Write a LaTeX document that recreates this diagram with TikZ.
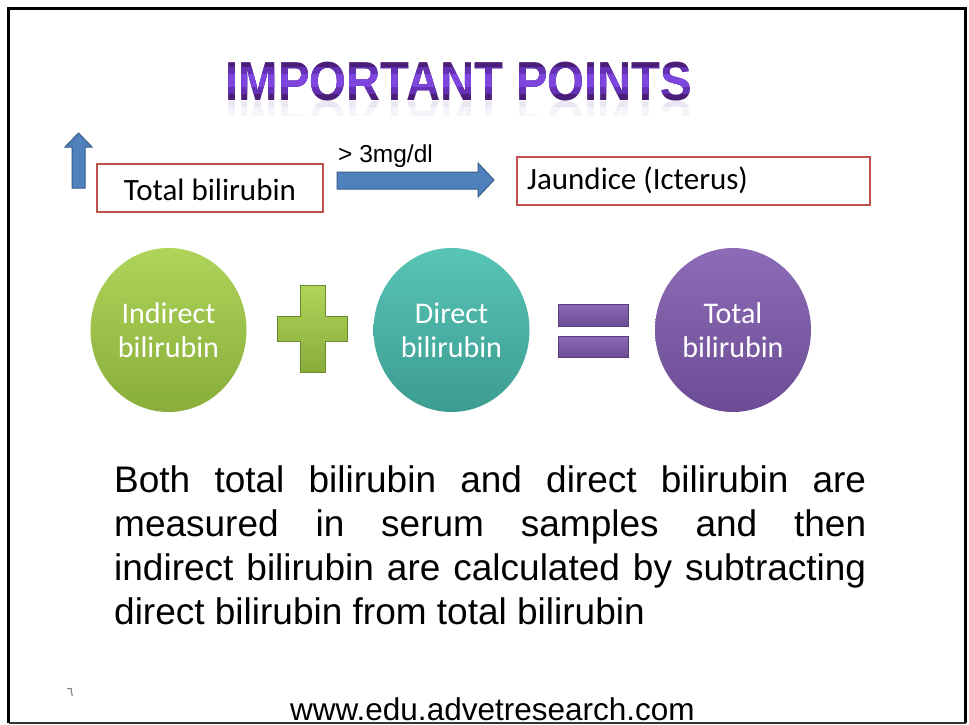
\documentclass[tikz,border=0pt]{standalone}
\usepackage{fontspec}
\setmainfont{Liberation Sans}
\newfontfamily\calfont{Carlito}
\newfontfamily\arfont[Script=Arabic]{DejaVu Sans}
\TeXXeTstate=1
\usetikzlibrary{calc,shapes.geometric}
\definecolor{boxred}{HTML}{C0504D}
\definecolor{arrowblue}{HTML}{4F81BD}
\definecolor{arrowedge}{HTML}{385D8A}
\definecolor{gtop}{HTML}{AED45A}
\definecolor{gbot}{HTML}{88AD3A}
\definecolor{ttop}{HTML}{58C5B6}
\definecolor{tbot}{HTML}{3C9C90}
\definecolor{ptop}{HTML}{8C6CB6}
\definecolor{pbot}{HTML}{6C4C94}
\definecolor{tdark}{HTML}{4A1D78}
\definecolor{tmid}{HTML}{6430B4}
\definecolor{tlight}{HTML}{7E46DE}
\definecolor{refl1}{HTML}{ECE5F3}
\definecolor{refl2}{HTML}{F6F3FA}
\newcommand{\titletext}{\fontsize{55}{60}\selectfont\bfseries\scalebox{0.86}[1]{IMPORTANT POINTS}}
\newcommand{\titlerefl}{\fontsize{55}{60}\selectfont\bfseries\scalebox{0.86}[-1]{IMPORTANT POINTS}}
\tikzset{
  titlestyle/.style={inner sep=0pt, anchor=base},
  redbox/.style={draw=boxred, line width=2pt, fill=white, inner sep=0pt},
  boxtext/.style={font=\calfont\fontsize{31}{36}\selectfont, text=black},
  blockarrow/.style={fill=arrowblue, draw=arrowedge, line width=1pt, line join=miter},
  bubble/.style={ellipse, minimum width=156pt, minimum height=164pt, inner sep=0pt,
    align=center, text=white, font=\calfont\fontsize{30}{34}\selectfont},
  opgreen/.style={top color=gtop, bottom color=gbot, draw=gbot!80!black, line width=0.4pt},
  oppurple/.style={top color=ptop, bottom color=pbot, draw=pbot!80!black, line width=0.4pt},
}
\begin{document}
\begin{tikzpicture}[x=1pt,y=-1pt]
\useasboundingbox (0,0) rectangle (969,725);
\fill[white] (0,0) rectangle (969,725);

% title with simulated gradient
\node[titlestyle, text=tdark] (title) at (459,100) {\titletext};
\begin{scope}
  \clip (200,68) rectangle (720,93);
  \node[titlestyle, text=tmid] at (459,100) {\titletext};
\end{scope}
\begin{scope}
  \clip (200,75) rectangle (720,86);
  \node[titlestyle, text=tlight] at (459,100) {\titletext};
\end{scope}
% reflection
\begin{scope}
  \clip (200,101) rectangle (720,107);
  \node[inner sep=0pt, anchor=north, text=refl1] (titlerefl) at (459,101) {\titlerefl};
\end{scope}
\begin{scope}
  \clip (200,107) rectangle (720,115);
  \node[inner sep=0pt, anchor=north, text=refl2] at (459,101) {\titlerefl};
\end{scope}

% up arrow
\draw[blockarrow] (72,188) -- (72,147) -- (65,147) -- (78.5,133) -- (92,147) -- (85,147) -- (85,188) -- cycle;

% boxes
\node[redbox, minimum width=226pt, minimum height=48pt] (tb) at (210,188) {};
\node[boxtext, anchor=base] (tbtext) at (210,200) {Total bilirubin};
\node[redbox, minimum width=353pt, minimum height=48pt] (jd) at (693.5,181) {};
\node[boxtext, anchor=base west, inner sep=0pt] (jdtext) at (527,189) {Jaundice (Icterus)};

% right block arrow between boxes
\coordinate (ra) at ($(tb.east)+(13,-8)$);
\coordinate (rb) at ($(jd.west)+(-22,-1)$);
\draw[blockarrow] (ra |- 0,172) -- (478,172) -- (478,163) -- (rb) -- (478,197) -- (478,189) -- (ra |- 0,189) -- cycle;
\node[anchor=base west, inner sep=0pt, font=\fontsize{24.5}{28}\selectfont] (lbl) at (338,162) {> 3mg/dl};

% bubbles
\node[bubble, top color=gtop, bottom color=gbot] (ind) at (168.5,330) {Indirect\\bilirubin};
\node[bubble, top color=ttop, bottom color=tbot] (dir) at (451.5,330) {Direct\\bilirubin};
\node[bubble, top color=ptop, bottom color=pbot] (tot) at (733,330) {Total\\bilirubin};

% plus
\path[opgreen] (300,285) -- (325,285) -- (325,316) -- (347,316) -- (347,341) -- (325,341)
  -- (325,372) -- (300,372) -- (300,341) -- (277,341) -- (277,316) -- (300,316) -- cycle;
% equals
\path[oppurple] (558,304) rectangle (628,326);
\path[oppurple] (558,336) rectangle (628,357);

% paragraph
\node[anchor=base west, inner sep=0pt] (para) at (114,492) {\parbox[t]{752pt}{\fontsize{37}{44}\selectfont
\makebox[752pt][s]{Both total bilirubin and direct bilirubin are}\\
\makebox[752pt][s]{measured in serum samples and then}\\
\makebox[752pt][s]{indirect bilirubin are calculated by subtracting}\\
direct bilirubin from total bilirubin}};

% small mark
\node[inner sep=0pt, text=gray, font=\arfont\fontsize{13}{15}\selectfont] (mark) at (70,692) {\beginR ٦\endR};

% footer
\node[anchor=base west, inner sep=0pt, font=\fontsize{31.5}{36}\selectfont] (foot) at (290,720) {www.edu.advetresearch.com};

% frame
\draw[line width=2.5pt, black] (8.5,723) -- (8.5,8.5) -- (965.5,8.5) -- (965.5,723);
\draw[line width=2pt, black!80] (8.5,723) -- (965.5,723);
\end{tikzpicture}
\end{document}
